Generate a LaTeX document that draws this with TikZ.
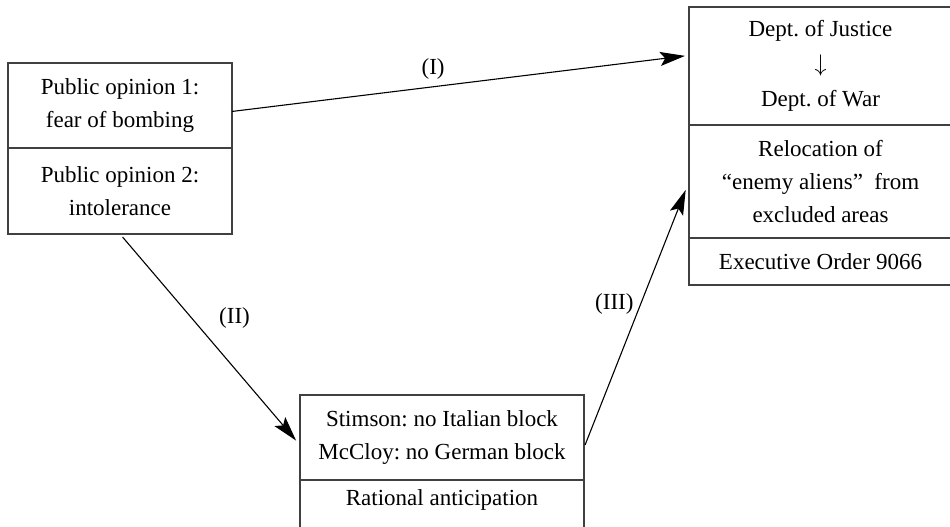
\documentclass[tikz,border=0pt]{standalone}
\usepackage{fontspec}
\setmainfont{Liberation Serif}
\usetikzlibrary{positioning,calc,arrows.meta}
\frenchspacing
\tikzset{
	cell/.style={draw=black!75,line width=0.75pt,align=center,inner sep=0pt,outer sep=0pt},
	link/.style={->,line width=0.55pt},
}
\begin{document}
\begin{tikzpicture}[>={Stealth[length=12.5pt,width=7pt,inset=2.5pt]},x=0.5pt,y=-0.5pt,font=\fontsize{11.5}{16.5}\selectfont]
	\useasboundingbox (0,0) rectangle (950,526);
	% public opinion
	\node[cell,anchor=north west,minimum width=112pt,minimum height=42.5pt] (op1) at (8,63) {Public opinion 1:\\fear of bombing};
	\node[cell,below=0pt of op1,minimum width=112pt,minimum height=43pt] (op2) {Public opinion 2:\\intolerance};
	% departments and order
	\node[cell,anchor=north west,minimum width=131.5pt,minimum height=59pt] (just) at (689,7) {Dept. of Justice\\[1pt]$\downarrow$\\[1pt]Dept. of War};
	\node[cell,below=0pt of just,minimum width=131.5pt,minimum height=56.5pt] (reloc) {Relocation of\\“enemy aliens”~ from\\excluded areas};
	\node[cell,below=0pt of reloc,minimum width=131.5pt,minimum height=23.5pt] (eo) {Executive Order 9066};
	% anticipation
	\node[cell,anchor=north west,minimum width=142pt,minimum height=42.5pt] (stim) at (300,395) {Stimson: no Italian block\\McCloy: no German block};
	\node[cell,below=0pt of stim,minimum width=142pt,minimum height=26pt,text depth=8.5pt] (rat) {Rational anticipation};
	% links
	\draw[link,shorten >=2pt] ($(op1.north east)!0.57!(op1.south east)$) -- ($(just.north west)!0.41!(just.south west)$) node[pos=0.44,above] {(I)};
	\draw[link,shorten <=2pt,shorten >=3pt] (op2.south) -- ($(stim.north west)!0.59!(stim.south west)$) node[pos=0.4,right=10pt] {(II)};
	\draw[link,shorten <=1.5pt,shorten >=4.5pt] ($(stim.north east)!0.62!(stim.south east)$) -- (reloc.west) node[pos=0.54,left] {(III)};
\end{tikzpicture}
\end{document}
